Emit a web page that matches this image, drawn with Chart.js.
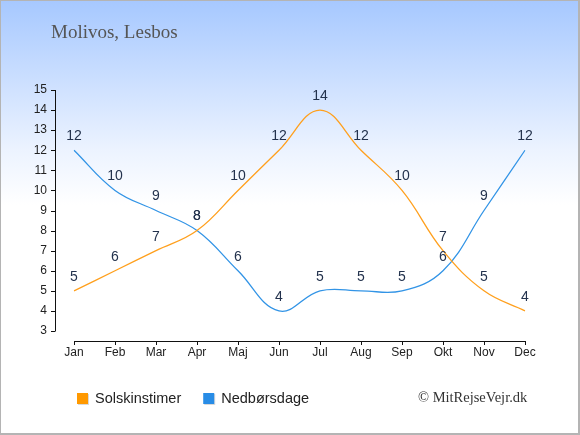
<!DOCTYPE html>
<html>
<head>
<meta charset="utf-8">
<script src="https://cdn.jsdelivr.net/npm/chart.js@4/dist/chart.umd.min.js"></script>
<style>
  html, body { margin: 0; padding: 0; }
  #wrap { position: relative; width: 580px; height: 435px; overflow: hidden;
          background: linear-gradient(to bottom, rgb(166,200,255) 0px, rgb(236,243,255) 150px, #ffffff 205px, #ffffff 435px); }
  #chart { position: absolute; left: 0; top: 0; }
  #frame { position: absolute; left: 0; top: 0; width: 580px; height: 435px; box-sizing: border-box;
           border: 1px solid #b4b4b4; border-right-width: 2px; border-bottom-width: 2px; pointer-events: none; }
  #title { position: absolute; left: 51px; top: 21px; font: 19px "Liberation Serif", serif; color: #555; }
  #credit { position: absolute; left: 418px; top: 389px; font: 14.5px "Liberation Serif", serif; color: #333; }
</style>
</head>
<body>
<div id="wrap">
  <canvas id="chart" width="580" height="435"></canvas>
  <div id="title">Molivos, Lesbos</div>
  <div id="credit">© MitRejseVejr.dk</div>
  <div id="frame"></div>
</div>
<script>
const months = ['Jan', 'Feb', 'Mar', 'Apr', 'Maj', 'Jun', 'Jul', 'Aug', 'Sep', 'Okt', 'Nov', 'Dec'];
const solskinstimer = [5, 6, 7, 8, 10, 12, 14, 12, 10, 7, 5, 4];
const nedboersdage = [12, 10, 9, 8, 6, 4, 5, 5, 5, 6, 9, 12];
const yTicks = [3, 4, 5, 6, 7, 8, 9, 10, 11, 12, 13, 14, 15];

const orange = 'rgb(255,160,30)';
const blue = 'rgb(50,148,230)';

// axes, tick labels, value labels and legend drawn from the scales
const decorations = {
    id: 'decorations',
    afterDatasetsDraw(chart) {
        const ctx = chart.ctx;
        const xs = chart.scales.x;
        const ys = chart.scales.y;
        const axisY = ys.bottom + 10;
        const axisX = xs.left - 19;

        ctx.save();
        ctx.strokeStyle = '#111';
        ctx.lineWidth = 1;

        // y axis
        ctx.beginPath();
        ctx.moveTo(axisX + 0.5, ys.getPixelForValue(yTicks[yTicks.length - 1]));
        ctx.lineTo(axisX + 0.5, ys.getPixelForValue(yTicks[0]));
        yTicks.forEach(v => {
            const py = Math.round(ys.getPixelForValue(v)) + 0.5;
            ctx.moveTo(axisX - 4, py);
            ctx.lineTo(axisX + 0.5, py);
        });
        ctx.stroke();

        // x axis
        ctx.beginPath();
        ctx.moveTo(xs.getPixelForValue(0), axisY + 0.5);
        ctx.lineTo(xs.getPixelForValue(months.length - 1), axisY + 0.5);
        months.forEach((m, i) => {
            const px = Math.round(xs.getPixelForValue(i)) + 0.5;
            ctx.moveTo(px, axisY);
            ctx.lineTo(px, axisY + 4);
        });
        ctx.stroke();

        ctx.fillStyle = '#222';
        ctx.font = '12px "Liberation Sans", Arial, sans-serif';
        ctx.textAlign = 'right';
        ctx.textBaseline = 'middle';
        yTicks.forEach(v => ctx.fillText(String(v), axisX - 8, ys.getPixelForValue(v)));
        ctx.textAlign = 'center';
        months.forEach((m, i) => ctx.fillText(m, xs.getPixelForValue(i), axisY + 12));

        // value labels
        ctx.fillStyle = '#23324d';
        ctx.font = '14px "Liberation Sans", Arial, sans-serif';
        chart.data.datasets.forEach(ds => {
            ds.data.forEach((v, i) => {
                ctx.fillText(String(v), xs.getPixelForValue(i), ys.getPixelForValue(v) - 14);
            });
        });

        // legend
        ctx.textAlign = 'left';
        ctx.font = '14.5px "Liberation Sans", Arial, sans-serif';
        let lx = 77;
        const ly = 399;
        chart.data.datasets.forEach(ds => {
            ctx.fillStyle = 'rgba(0,0,0,0.15)';
            ctx.fillRect(lx + 1, ly - 5, 11, 11);
            ctx.fillStyle = ds.legendColor;
            ctx.fillRect(lx, ly - 6, 11, 11);
            ctx.fillStyle = '#222';
            ctx.fillText(ds.label, lx + 18, ly);
            lx += 18 + ctx.measureText(ds.label).width + 22;
        });
        ctx.restore();
    }
};

new Chart(document.getElementById('chart'), {
    type: 'line',
    data: {
        labels: months,
        datasets: [{
            label: 'Solskinstimer',
            data: solskinstimer,
            borderColor: orange,
            legendColor: 'rgb(255,153,0)',
            borderWidth: 1.3,
            pointRadius: 0,
            tension: 0.4,
            fill: false
        }, {
            label: 'Nedbørsdage',
            data: nedboersdage,
            borderColor: blue,
            legendColor: 'rgb(40,140,230)',
            borderWidth: 1.3,
            pointRadius: 0,
            tension: 0.4,
            fill: false
        }]
    },
    options: {
        responsive: false,
        animation: false,
        events: [],
        layout: { padding: { left: 74, right: 55, top: 90, bottom: 104 } },
        plugins: { legend: { display: false }, tooltip: { enabled: false } },
        scales: {
            x: { display: false, offset: false },
            y: { display: false, min: 3, max: 15 }
        }
    },
    plugins: [decorations]
});
</script>
</body>
</html>
